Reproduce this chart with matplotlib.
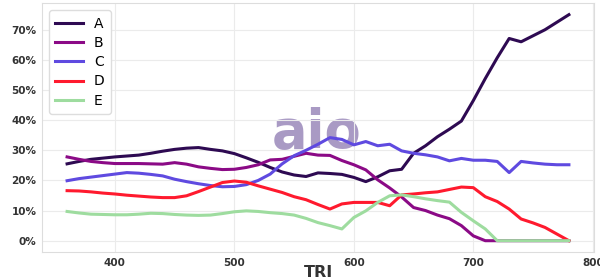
import matplotlib
matplotlib.use("Agg")
import matplotlib.pyplot as plt
from matplotlib.ticker import PercentFormatter

tri = list(range(360, 790, 10))

series_a = [25.5, 26.3, 27.0, 27.4, 27.8, 28.1, 28.4, 29.0, 29.7, 30.3,
            30.7, 30.9, 30.3, 29.8, 28.9, 27.5, 26.0, 24.3, 22.8, 21.8,
            21.3, 22.5, 22.3, 22.0, 21.0, 19.6, 21.2, 23.2, 23.7, 29.0,
            31.5, 34.5, 37.0, 39.7, 46.5, 53.8, 60.7, 67.1, 66.0, 68.0,
            70.0, 72.5, 75.0]
series_b = [27.8, 27.0, 26.3, 25.9, 25.6, 25.6, 25.6, 25.5, 25.4, 25.9,
            25.4, 24.5, 24.0, 23.6, 23.7, 24.3, 25.2, 26.8, 27.0, 28.0,
            29.0, 28.4, 28.3, 26.6, 25.2, 23.5, 20.2, 17.5, 14.5, 11.0,
            10.0, 8.5, 7.3, 5.0, 1.6, 0, 0, 0, 0, 0,
            0, 0, 0]
series_c = [19.9, 20.6, 21.1, 21.6, 22.1, 22.6, 22.4, 22.0, 21.5, 20.4,
            19.6, 18.9, 18.3, 17.9, 18.0, 18.6, 20.0, 22.1, 25.5, 28.2,
            30.0, 32.0, 34.2, 33.6, 31.8, 32.9, 31.5, 32.0, 29.8, 29.0,
            28.5, 27.8, 26.5, 27.3, 26.7, 26.7, 26.3, 22.6, 26.3, 25.8,
            25.4, 25.2, 25.2]
series_d = [16.6, 16.5, 16.2, 15.8, 15.5, 15.1, 14.8, 14.5, 14.3, 14.3,
            14.9, 16.3, 17.8, 19.3, 19.8, 19.4, 18.2, 17.1, 16.0, 14.6,
            13.6, 12.0, 10.5, 12.2, 12.7, 12.7, 12.7, 11.6, 15.2, 15.5,
            15.9, 16.2, 17.0, 17.8, 17.6, 14.6, 13.0, 10.5, 7.2, 5.9,
            4.4, 2.2, 0.0]
series_e = [9.7, 9.2, 8.8, 8.7, 8.6, 8.6, 8.8, 9.1, 9.0, 8.7,
            8.5, 8.4, 8.5, 9.0, 9.6, 9.9, 9.7, 9.3, 9.0, 8.5,
            7.4, 6.0, 5.0, 3.9, 7.7, 9.9, 12.7, 14.9, 15.2, 14.6,
            13.9, 13.3, 12.8, 9.4, 6.6, 3.9, 0, 0, 0, 0,
            0, 0, 0]

labels = ["A", "B", "C", "D", "E"]
colors = ["#2e0a52", "#8b0a86", "#5f4ae0", "#ff1a2e", "#9edc9f"]

fig = plt.figure(figsize=(6, 2.8), dpi=100)
ax = fig.add_axes([0.07, 0.1, 0.92, 0.888])

for vals, lab, col in zip([series_a, series_b, series_c, series_d, series_e], labels, colors):
    ax.plot(tri, vals, color=col, lw=2.2, label=lab)

# watermark logo
ax.text(0.497, 0.48, "aio", transform=ax.transAxes, ha="center", va="center",
        fontsize=38, fontweight="bold", color="#9a88ba", alpha=0.85, zorder=0)

ax.yaxis.set_major_formatter(PercentFormatter(decimals=0))
ax.set_yticks([0, 10, 20, 30, 40, 50, 60, 70])
ax.set_xticks([400, 500, 600, 700, 800])
ax.set_xlabel("TRI", fontsize=11.5, fontweight="bold", color="#333333", labelpad=-2)

ax.grid(True, color="#ebebeb", lw=0.8)
ax.set_axisbelow(True)
for s in ax.spines.values():
    s.set_color("#dddddd")
ax.tick_params(length=0, labelsize=7.5, colors="#333333", pad=4)
for t in ax.get_xticklabels() + ax.get_yticklabels():
    t.set_fontweight("bold")

leg = ax.legend(loc="upper left", fontsize=10, handlelength=2.0,
                labelspacing=0.38, borderpad=0.45, framealpha=1)
leg.get_frame().set_edgecolor("#dddddd")

fig.savefig("out.png", dpi=100)
